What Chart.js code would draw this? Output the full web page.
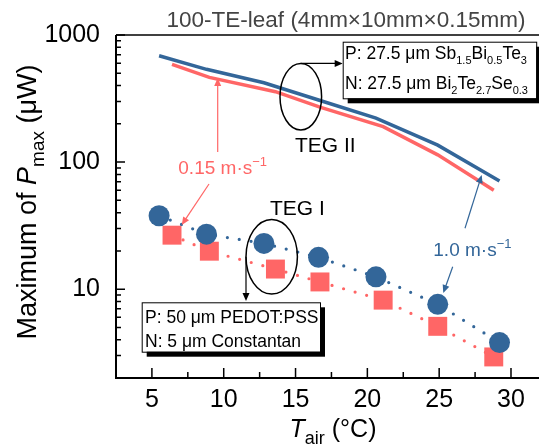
<!DOCTYPE html>
<html>
<head>
<meta charset="utf-8">
<script src="https://cdn.jsdelivr.net/npm/chart.js@4"></script>
<style>
  html, body { margin: 0; padding: 0; background: #fff; overflow: hidden; }
  #wrap { width: 539px; height: 447px; }
</style>
</head>
<body>
<div id="wrap"><canvas id="chart" width="539" height="447"></canvas></div>
<script>
// TEG II (Bi-Te legs), continuous curves
const tegIITempFast = [5.5, 8.8, 12.8, 16.6, 20.6, 24.9, 29.2];
const tegIIPowerFast = [687, 537, 421, 308, 222, 136, 71];
const tegIITempSlow = [6.4, 9.0, 13.6, 16.7, 21.1, 24.9, 28.8];
const tegIIPowerSlow = [588, 464, 358, 271, 190, 114, 60];

// TEG I (PEDOT:PSS / constantan), measured points
const tegITempFast = [5.5, 8.8, 12.8, 16.6, 20.6, 24.9, 29.2];
const tegIPowerFast = [37.8, 27.1, 22.9, 17.8, 12.5, 7.6, 3.8];
const tegITempSlow = [6.4, 9.0, 13.6, 16.7, 21.1, 24.9, 28.8];
const tegIPowerSlow = [26.6, 19.9, 14.4, 11.4, 8.2, 5.1, 2.93];

const xTicks = [5, 10, 15, 20, 25, 30];
const xMinorTicks = [7.5, 12.5, 17.5, 22.5, 27.5];
const yTicks = [10, 100, 1000];

const BLUE = '#336699';
const RED = '#ff6666';
const FONT = '"Liberation Sans", Arial, sans-serif';

const toPoints = (xs, ys) => xs.map((x, i) => ({ x, y: ys[i] }));

// text with sub/superscripts, drawn piece by piece
function drawRuns(ctx, x, y, runs, size, align, subScale = 0.72) {
    const parts = runs.map(r => {
        const fs = (r.sub || r.sup) ? Math.round(size * subScale) : size;
        const font = `${r.italic ? 'italic ' : ''}${fs}px ${FONT}`;
        ctx.font = font;
        const dy = r.sub ? size * 0.28 : (r.sup ? -size * 0.42 : 0);
        return { t: r.t, font, dy, w: ctx.measureText(r.t).width };
    });
    const total = parts.reduce((a, p) => a + p.w, 0);
    let cx = align === 'center' ? x - total / 2 : x;
    ctx.textAlign = 'left';
    ctx.textBaseline = 'alphabetic';
    parts.forEach(p => {
        ctx.font = p.font;
        ctx.fillText(p.t, cx, y + p.dy);
        cx += p.w;
    });
}

function arrow(ctx, x1, y1, x2, y2, color) {
    const a = Math.atan2(y2 - y1, x2 - x1);
    const len = 8, half = 3.5;
    ctx.strokeStyle = color;
    ctx.fillStyle = color;
    ctx.lineWidth = 1.2;
    ctx.beginPath();
    ctx.moveTo(x1, y1);
    ctx.lineTo(x2 - Math.cos(a) * len * 0.8, y2 - Math.sin(a) * len * 0.8);
    ctx.stroke();
    ctx.beginPath();
    ctx.moveTo(x2, y2);
    ctx.lineTo(x2 - Math.cos(a) * len - Math.sin(a) * half, y2 - Math.sin(a) * len + Math.cos(a) * half);
    ctx.lineTo(x2 - Math.cos(a) * len + Math.sin(a) * half, y2 - Math.sin(a) * len - Math.cos(a) * half);
    ctx.closePath();
    ctx.fill();
}

function ellipse(ctx, cx, cy, rx, ry) {
    ctx.strokeStyle = '#000';
    ctx.lineWidth = 1.5;
    ctx.beginPath();
    ctx.ellipse(cx, cy, rx, ry, 0, 0, Math.PI * 2);
    ctx.stroke();
}

function shadowBox(ctx, x, y, w, h) {
    ctx.fillStyle = '#000';
    ctx.fillRect(x + 5, y + 5, w, h);
    ctx.fillStyle = '#fff';
    ctx.fillRect(x, y, w, h);
    ctx.strokeStyle = '#000';
    ctx.lineWidth = 1;
    ctx.strokeRect(x + 0.5, y + 0.5, w, h);
}

const decor = {
    id: 'decor',
    afterDraw(chart) {
        const { ctx, chartArea: area, scales: { x, y } } = chart;
        ctx.save();

        // frame
        ctx.strokeStyle = '#000';
        ctx.lineWidth = 2;
        ctx.beginPath();
        ctx.moveTo(area.left, area.top);
        ctx.lineTo(area.left, area.bottom);
        ctx.lineTo(area.right, area.bottom);
        ctx.stroke();
        ctx.lineWidth = 1.5;
        ctx.beginPath();
        ctx.moveTo(area.left, area.top);
        ctx.lineTo(area.right, area.top);
        ctx.stroke();

        // inward tick marks
        ctx.lineWidth = 1.5;
        ctx.beginPath();
        xTicks.forEach(v => {
            const px = x.getPixelForValue(v);
            ctx.moveTo(px, area.bottom); ctx.lineTo(px, area.bottom - 10);
        });
        xMinorTicks.forEach(v => {
            const px = x.getPixelForValue(v);
            ctx.moveTo(px, area.bottom); ctx.lineTo(px, area.bottom - 6);
        });
        [1, 10, 100].forEach(dec => {
            for (let m = 2; m <= 9; m++) {
                const v = dec * m;
                if (v < y.min || v > y.max) continue;
                const py = y.getPixelForValue(v);
                ctx.moveTo(area.left, py); ctx.lineTo(area.left + 5, py);
            }
        });
        yTicks.forEach(v => {
            const py = y.getPixelForValue(v);
            ctx.moveTo(area.left, py); ctx.lineTo(area.left + 9, py);
        });
        ctx.stroke();

        // title
        ctx.fillStyle = '#444';
        ctx.font = `22.5px ${FONT}`;
        ctx.textAlign = 'center';
        ctx.fillText('100-TE-leaf (4mm\u00d710mm\u00d70.15mm)', 346, 26.5);

        // axis titles
        ctx.fillStyle = '#000';
        drawRuns(ctx, 333, 437, [
            { t: 'T', italic: true }, { t: 'air', sub: true }, { t: ' (\u00b0C)' }
        ], 25, 'center');
        ctx.save();
        ctx.translate(36, 202);
        ctx.rotate(-Math.PI / 2);
        drawRuns(ctx, 0, 0, [
            { t: 'Maximum of ' }, { t: 'P', italic: true }, { t: 'max', sub: true }, { t: ' (\u03bcW)' }
        ], 27, 'center');
        ctx.restore();

        // TEG II callout
        ellipse(ctx, 300.8, 96.7, 20.8, 33.3);
        arrow(ctx, 300.8, 63.4, 342.7, 63.4, '#000');
        shadowBox(ctx, 342.7, 41.7, 193.5, 56.6);
        ctx.fillStyle = '#000';
        drawRuns(ctx, 345, 59, [
            { t: 'P: 27.5 \u03bcm Sb' }, { t: '1.5', sub: true }, { t: 'Bi' }, { t: '0.5', sub: true },
            { t: 'Te' }, { t: '3', sub: true }
        ], 17.5, 'left', 0.64);
        drawRuns(ctx, 345, 89, [
            { t: 'N: 27.5 \u03bcm Bi' }, { t: '2', sub: true }, { t: 'Te' }, { t: '2.7', sub: true },
            { t: 'Se' }, { t: '0.3', sub: true }
        ], 17.5, 'left', 0.64);
        ctx.font = `21px ${FONT}`;
        ctx.textAlign = 'left';
        ctx.fillText('TEG II', 295, 151.7);

        // TEG I callout
        ellipse(ctx, 271.7, 256.7, 25.7, 37.3);
        arrow(ctx, 246, 256.7, 246, 301, '#000');
        shadowBox(ctx, 141.7, 302.3, 178.3, 49.4);
        ctx.fillStyle = '#000';
        drawRuns(ctx, 145, 323.3, [{ t: 'P: 50 \u03bcm PEDOT:PSS' }], 17.5);
        drawRuns(ctx, 145, 346.7, [{ t: 'N: 5 \u03bcm Constantan' }], 17.5);
        ctx.font = `21px ${FONT}`;
        ctx.textAlign = 'left';
        ctx.fillText('TEG I', 270, 215);

        // air speed labels
        ctx.fillStyle = RED;
        drawRuns(ctx, 178.3, 174, [{ t: '0.15 m\u00b7s' }, { t: '\u22121', sup: true }], 19, 'left', 0.68);
        arrow(ctx, 217.7, 152, 217.7, 78, RED);
        arrow(ctx, 209, 184, 181.7, 225, RED);
        ctx.fillStyle = BLUE;
        drawRuns(ctx, 433.3, 256, [{ t: '1.0 m\u00b7s' }, { t: '\u22121', sup: true }], 19, 'left', 0.68);
        arrow(ctx, 452.7, 266.7, 443.3, 293, BLUE);
        arrow(ctx, 465, 228.3, 481.7, 175, BLUE);

        ctx.restore();
    }
};

new Chart(document.getElementById('chart'), {
    type: 'scatter',
    data: {
        datasets: [
            {
                label: 'TEG I 1.0 m/s',
                data: toPoints(tegITempFast, tegIPowerFast),
                showLine: true,
                borderColor: BLUE,
                borderWidth: 3.2,
                borderDash: [0, 12],
                borderCapStyle: 'round',
                pointStyle: 'circle',
                pointRadius: 10.5,
                pointBackgroundColor: BLUE,
                pointBorderWidth: 0,
                order: 0
            },
            {
                label: 'TEG I 0.15 m/s',
                data: toPoints(tegITempSlow, tegIPowerSlow),
                showLine: true,
                borderColor: RED,
                borderWidth: 3.2,
                borderDash: [0, 12],
                borderCapStyle: 'round',
                pointStyle: 'rect',
                pointRadius: 13.4,
                pointBackgroundColor: RED,
                pointBorderWidth: 0,
                order: 1
            },
            {
                label: 'TEG II 1.0 m/s',
                data: toPoints(tegIITempFast, tegIIPowerFast),
                showLine: true,
                borderColor: BLUE,
                borderWidth: 3.5,
                pointRadius: 0,
                order: 2
            },
            {
                label: 'TEG II 0.15 m/s',
                data: toPoints(tegIITempSlow, tegIIPowerSlow),
                showLine: true,
                borderColor: RED,
                borderWidth: 3.5,
                pointRadius: 0,
                order: 3
            }
        ]
    },
    options: {
        responsive: false,
        animation: false,
        devicePixelRatio: 1,
        layout: { autoPadding: false, padding: { top: 35, left: 0, right: 0, bottom: 0 } },
        plugins: {
            legend: { display: false },
            tooltip: { enabled: false }
        },
        scales: {
            x: {
                type: 'linear',
                min: 2.5,
                max: 31.95,
                grid: { display: false, drawTicks: false },
                border: { display: false },
                ticks: { color: '#000', font: { size: 25, family: FONT }, padding: 7, maxRotation: 0 },
                afterBuildTicks: s => { s.ticks = xTicks.map(v => ({ value: v })); },
                afterFit: s => { s.height = 69; s.paddingLeft = 0; s.paddingRight = 0; }
            },
            y: {
                type: 'logarithmic',
                min: 2,
                max: 1000,
                grid: { display: false, drawTicks: false },
                border: { display: false },
                ticks: { color: '#000', font: { size: 25, family: FONT }, padding: 16, callback: v => String(v) },
                afterBuildTicks: s => { s.ticks = yTicks.map(v => ({ value: v })); },
                afterFit: s => { s.width = 116; s.paddingTop = 0; s.paddingBottom = 0; }
            }
        }
    },
    plugins: [decor]
});
</script>
</body>
</html>
